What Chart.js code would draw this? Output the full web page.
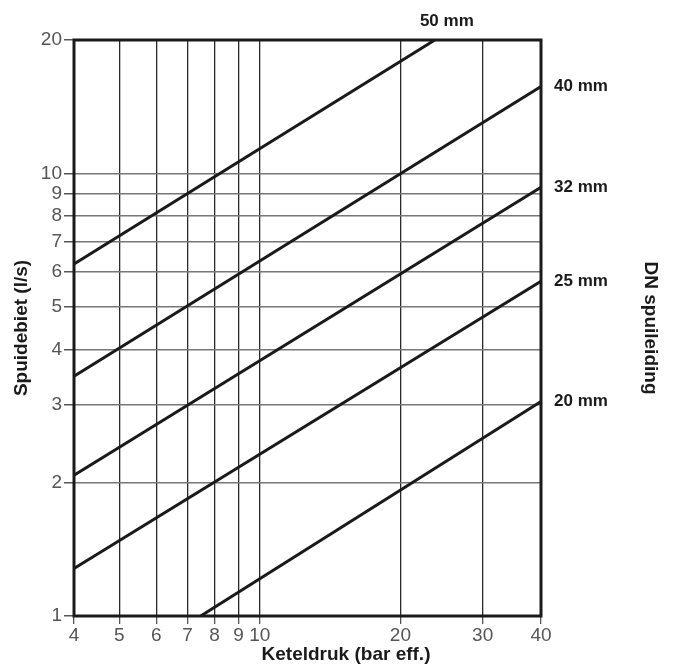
<!DOCTYPE html>
<html>
<head>
<meta charset="utf-8">
<script src="https://cdn.jsdelivr.net/npm/chart.js@4"></script>
<style>
  html, body { margin: 0; padding: 0; background: #fff; }
  #wrap { width: 676px; height: 669px; }
</style>
</head>
<body>
<div id="wrap"><canvas id="chart"></canvas></div>
<script>
// Keteldruk (bar eff.) on x, Spuidebiet (l/s) on y, both log scale
const xTicks = [4, 5, 6, 7, 8, 9, 10, 20, 30, 40];
const yTicks = [1, 2, 3, 4, 5, 6, 7, 8, 9, 10, 20];

// one straight line per pipe size (DN spuileiding)
const seriesNames = ["50 mm", "40 mm", "32 mm", "25 mm", "20 mm"];
const dn50 = [{x: 4, y: 6.24}, {x: 23.7, y: 20}];
const dn40 = [{x: 4, y: 3.48}, {x: 40, y: 15.7}];
const dn32 = [{x: 4, y: 2.08}, {x: 40, y: 9.3}];
const dn25 = [{x: 4, y: 1.28}, {x: 40, y: 5.7}];
const dn20 = [{x: 7.47, y: 1.0}, {x: 40, y: 3.05}];
const seriesData = [dn50, dn40, dn32, dn25, dn20];

const tickFont = { family: "'Liberation Sans Narrow', 'Liberation Sans', Arial, sans-serif", size: 19 };
const boldFont = "bold 19px 'Liberation Sans', Arial, sans-serif";
const labelFont = "bold 17px 'Liberation Sans', Arial, sans-serif";

// frame + annotations drawn on top
const annotations = {
    id: 'annotations',
    afterDatasetsDraw(chart) {
        const {ctx, chartArea, scales} = chart;
        ctx.save();
        ctx.strokeStyle = '#1a1a1a';
        ctx.lineWidth = 3;
        ctx.strokeRect(chartArea.left, chartArea.top, chartArea.right - chartArea.left, chartArea.bottom - chartArea.top);

        ctx.fillStyle = '#1a1a1a';
        ctx.font = labelFont;
        ctx.textBaseline = 'middle';
        seriesData.forEach((pts, i) => {
            const last = pts[pts.length - 1];
            const px = scales.x.getPixelForValue(last.x);
            const py = scales.y.getPixelForValue(last.y);
            if (last.y >= scales.y.max) {
                // line leaves through the top: label above it
                ctx.textAlign = 'center';
                ctx.fillText(seriesNames[i], px + 12, py - 19);
            } else {
                ctx.textAlign = 'left';
                ctx.fillText(seriesNames[i], chartArea.right + 13, py);
            }
        });

        ctx.font = boldFont;
        ctx.textAlign = 'center';
        ctx.fillText('Keteldruk (bar eff.)', 346, 655);

        ctx.translate(22, 328);
        ctx.rotate(-Math.PI / 2);
        ctx.fillText('Spuidebiet (l/s)', 0, 0);
        ctx.restore();

        ctx.save();
        ctx.fillStyle = '#1a1a1a';
        ctx.font = boldFont;
        ctx.textAlign = 'center';
        ctx.textBaseline = 'middle';
        ctx.translate(650, 328);
        ctx.rotate(Math.PI / 2);
        ctx.fillText('DN spuileiding', 0, 0);
        ctx.restore();
    }
};

new Chart(document.getElementById('chart'), {
    type: 'line',
    data: {
        datasets: seriesData.map((pts, i) => ({
            label: seriesNames[i],
            data: pts,
            borderColor: '#1a1a1a',
            borderWidth: 3,
            pointRadius: 0,
            tension: 0
        }))
    },
    options: {
        responsive: true,
        maintainAspectRatio: false,
        animation: false,
        layout: { padding: { top: 40, right: 135, left: 0, bottom: 0 } },
        plugins: { legend: { display: false }, tooltip: { enabled: false } },
        scales: {
            x: {
                type: 'logarithmic',
                min: 4,
                max: 40,
                afterBuildTicks: (scale) => { scale.ticks = xTicks.map(v => ({ value: v })); },
                afterFit: (scale) => { scale.height = 53; },
                ticks: {
                    autoSkip: false,
                    maxRotation: 0,
                    padding: 0,
                    color: '#555',
                    font: tickFont,
                    callback: (v) => String(v)
                },
                grid: {
                    color: (c) => (c.tick && (c.tick.value === 4 || c.tick.value === 40)) ? 'rgba(0,0,0,0)' : '#2a2a2a',
                    lineWidth: 1.3,
                    tickLength: 8,
                    tickColor: '#555'
                },
                border: { display: false }
            },
            y: {
                type: 'logarithmic',
                min: 1,
                max: 20,
                afterBuildTicks: (scale) => { scale.ticks = yTicks.map(v => ({ value: v })); },
                afterFit: (scale) => { scale.width = 74; },
                ticks: {
                    autoSkip: false,
                    padding: 2,
                    color: '#555',
                    font: tickFont,
                    callback: (v) => String(v)
                },
                grid: {
                    color: (c) => (c.tick && (c.tick.value === 1 || c.tick.value === 20)) ? 'rgba(0,0,0,0)' : '#777',
                    lineWidth: 1.5,
                    tickLength: 10,
                    tickColor: '#555'
                },
                border: { display: false }
            }
        }
    },
    plugins: [annotations]
});
</script>
</body>
</html>
